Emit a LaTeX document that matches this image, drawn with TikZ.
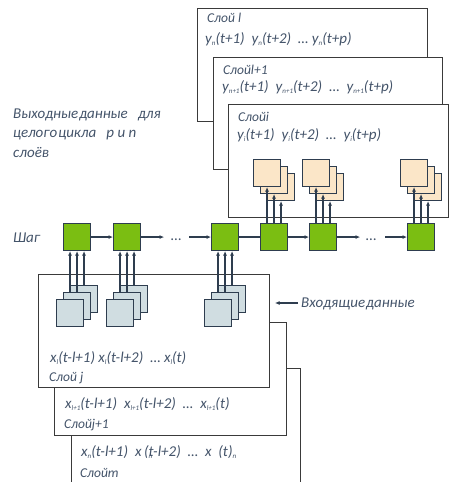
\documentclass[tikz,border=0pt]{standalone}
\usepackage{fontspec}
\setmainfont{Carlito}
\usetikzlibrary{arrows.meta}
\definecolor{txt}{HTML}{44546A}
\definecolor{ink}{HTML}{2E3D4F}
\definecolor{framec}{HTML}{3A3A3A}
\definecolor{nvgreen}{HTML}{7BBE12}
\definecolor{beige}{HTML}{FBE6C8}
\definecolor{slate}{HTML}{D0DDE1}
% tiny lowered index, as used in the layer formulas
\newcommand{\lsub}[1]{\raisebox{-2.6pt}{\fontsize{7}{7}\selectfont #1}}
\newcommand{\gap}{\hspace{7pt}}
\tikzset{
  cell/.style={draw=ink, line width=1.1pt, minimum size=27pt, inner sep=0pt, anchor=north west},
  greenbox/.style={cell, fill=nvgreen},
  beigebox/.style={cell, fill=beige},
  slatebox/.style={cell, fill=slate},
  layerbox/.style={draw=framec, line width=1.2pt, fill=white, inner sep=0pt, anchor=north west},
  lbl/.style={text=txt, font=\fontsize{13.5}{16}\selectfont\itshape, inner sep=0pt, anchor=base west},
  formula/.style={text=txt, font=\fontsize{15}{18}\selectfont\itshape, inner sep=0pt, anchor=base west},
  arr/.style={draw=ink, line width=1.2pt, -{Latex[length=4.5pt,width=4pt]}},
  link/.style={draw=ink, line width=1.2pt},
}
\begin{document}
\begin{tikzpicture}[x=1pt,y=-1pt]
\useasboundingbox (0,0) rectangle (453,482);

% ---------- output layers (top stack) ----------
\node[layerbox, minimum width=230pt, minimum height=113pt] (L1) at (197,8) {};
\node[lbl] (L1name) at (207,22) {Слой l};
\node[formula] (L1f) at (205,43) {y\lsub{n}(t+1)\gap y\lsub{n}(t+2)\gap\dots\ y\lsub{n}(t+p)};

\node[layerbox, minimum width=229pt, minimum height=112pt] (L2) at (213,57) {};
\node[lbl] (L2name) at (223,74) {Слойl+1};
\node[formula] (L2f) at (222,91) {y\lsub{n+1}(t+1)\gap y\lsub{n+1}(t+2)\gap\dots\gap y\lsub{n+1}(t+p)};

\node[layerbox, minimum width=220pt, minimum height=113pt] (L3) at (228,104) {};
\node[lbl] (L3name) at (238,121) {Слойi};
\node[formula] (L3f) at (237,139) {y\lsub{i}(t+1)\gap y\lsub{i}(t+2)\gap\dots\gap y\lsub{i}(t+p)};

% ---------- input layers (bottom stack) ----------
\node[layerbox, minimum width=229pt, minimum height=130pt] (Lm) at (71,368) {};
\node[formula] (Lmf) at (81,456) {x\lsub{n}(t-l+1)\gap x\,(\rlap{\lsub{n}}t-l+2)\gap\dots\gap x\ \ (t)\lsub{n}};
\node[lbl] (Lmname) at (80,477) {Слойm};

\node[layerbox, minimum width=232pt, minimum height=113pt] (Lj1) at (54,322) {};
\node[formula] (Lj1f) at (65,408) {x\lsub{l+1}(t-l+1)\gap x\lsub{l+1}(t-l+2)\gap\dots\gap x\lsub{l+1}(t)};
\node[lbl] (Lj1name) at (64,428) {Слойj+1};

\node[layerbox, minimum width=231pt, minimum height=113pt] (Lj) at (38,274) {};
\node[formula] (Ljf) at (50,362) {x\lsub{l}(t-l+1)\ x\lsub{l}(t-l+2)\gap\dots\ x\lsub{l}(t)};
\node[lbl] (Ljname) at (49,381) {Слой j};

% ---------- time steps ----------
\foreach \i/\x in {1/63,2/113,3/211,4/260,5/309,6/407}
  \node[greenbox] (g\i) at (\x,223) {};

\node[text=txt, font=\fontsize{15}{18}\selectfont, inner sep=0pt] (d1) at (176,240) {\dots};
\node[text=txt, font=\fontsize{15}{18}\selectfont, inner sep=0pt] (d2) at (371,240) {\dots};

\draw[arr] (g1.east) -- (g2.west);
\draw[arr] (g2.east) -- ++(23,0) coordinate (d1in);
\draw[arr] ([xshift=-22pt]g3.west) coordinate (d1out) -- (g3.west);
\draw[link] (g3.east) -- (g4.west);
\draw[arr] (g4.east) -- (g5.west);
\draw[arr] (g5.east) -- ++(23,0) coordinate (d2in);
\draw[arr] ([xshift=-22pt]g6.west) coordinate (d2out) -- (g6.west);

% ---------- input cells feeding the first steps ----------
\foreach \i in {1,2,3} {
  \path (g\i.north west) ++(7,62) node[slatebox] (sb\i) {};
  \path (g\i.north west) ++(0,69) node[slatebox] (sm\i) {};
  \path (g\i.north west) ++(-7,76) node[slatebox] (sf\i) {};
  \draw[arr] (sb\i.north) -- (sb\i.north |- g\i.south);
  \draw[arr] (sm\i.north) -- (sm\i.north |- g\i.south);
  \draw[arr] (sf\i.north) -- (sf\i.north |- g\i.south);
}
% redraw the cells so that they cover the connectors behind them
\foreach \i in {1,2,3} {
  \path (g\i.north west) ++(7,62) node[slatebox] {};
  \path (g\i.north west) ++(0,69) node[slatebox] {};
  \path (g\i.north west) ++(-7,76) node[slatebox] {};
  \draw[link] (sb\i.north) -- ++(0,-8);
  \draw[link] (sm\i.north) -- ++(0,-8);
}

% ---------- output cells fed by the last steps ----------
\foreach \i in {4,5,6} {
  \path (g\i.north west) ++(7,-50) node[beigebox] (tb\i) {};
  \path (g\i.north west) ++(0,-57) node[beigebox] (tm\i) {};
  \path (g\i.north west) ++(-7,-64) node[beigebox] (tf\i) {};
  \draw[arr] (g\i.north -| tf\i.south) -- (tf\i.south);
  \draw[arr] (g\i.north -| tm\i.south) -- (tm\i.south);
  \draw[arr] (g\i.north -| tb\i.south) -- (tb\i.south);
}

% ---------- captions ----------
\node[formula, align=left, anchor=base west, font=\fontsize{15}{19.5}\selectfont\itshape] (out) at (13,157)
  {Выходные\hspace{1pt}данные\ \ \ для\\целого\hspace{1pt}цикла\ \ \ p и n\\слоёв};
\node[formula] (step) at (13,242) {Шаг};
\node[formula] (inp) at (301,307) {Входящие\hspace{1pt}данные};
\draw[arr] ([xshift=-3pt]inp.west |- 0,303) coordinate (inpA) -- ++(-23,0);
\end{tikzpicture}
\end{document}
